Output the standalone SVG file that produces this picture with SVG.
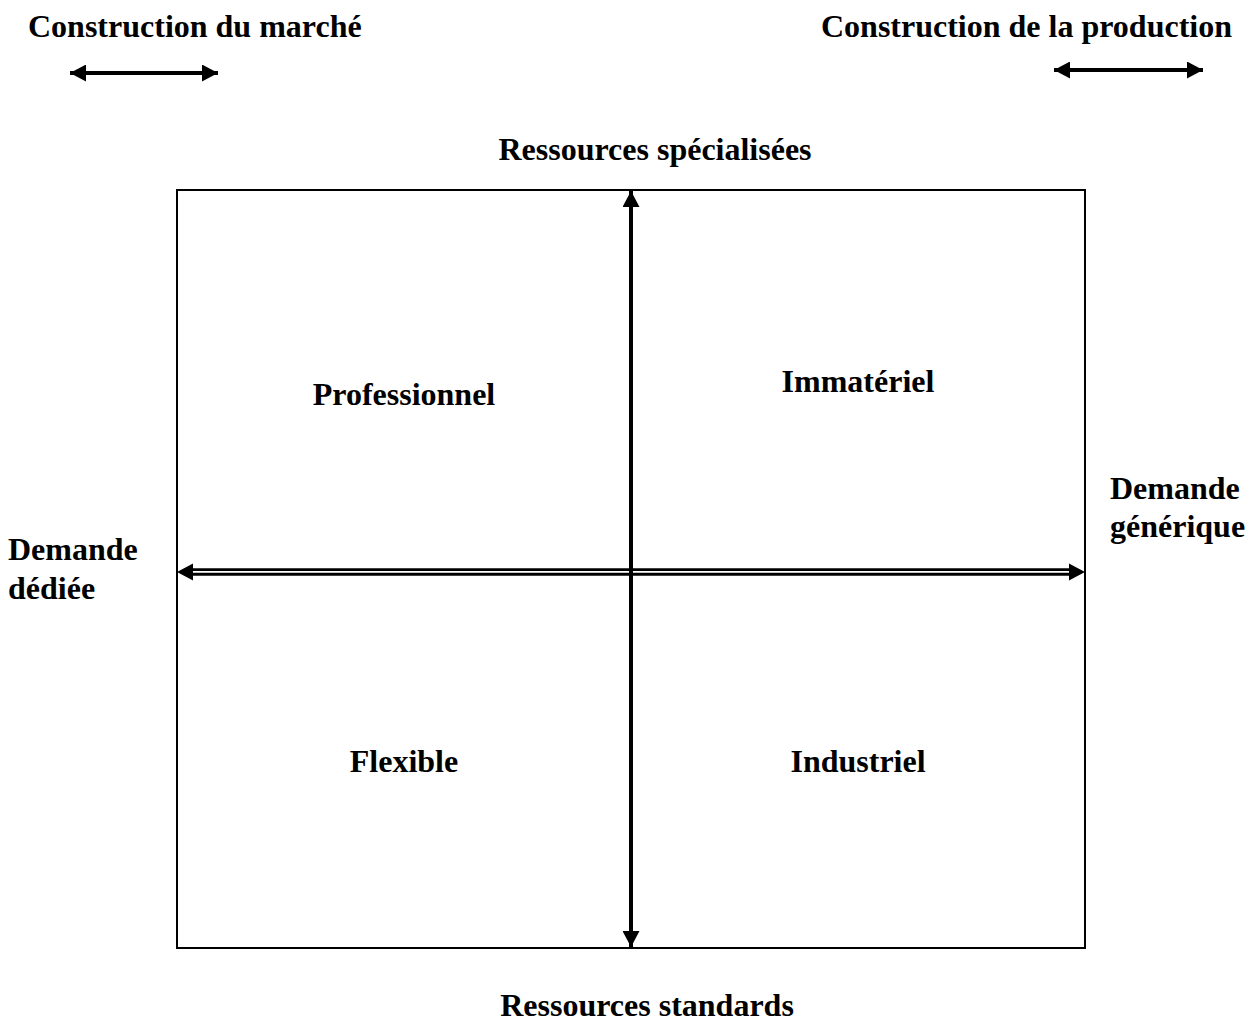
<svg xmlns="http://www.w3.org/2000/svg" width="1253" height="1023" viewBox="0 0 1253 1023">
<style>
text{font-family:"Liberation Serif","Times New Roman",serif;font-weight:bold;font-size:32px;fill:#000}
.c{text-anchor:middle}
.ln{stroke:#000;fill:none}
</style>
<defs>
<marker id="ah" viewBox="0 0 10 10" refX="10" refY="5" markerWidth="16" markerHeight="17" markerUnits="userSpaceOnUse" orient="auto-start-reverse" preserveAspectRatio="none">
<path d="M0,0 L10,5 L0,10 z" fill="#000"/>
</marker>
</defs>
<rect width="1253" height="1023" fill="#fff"/>
<g id="frame"><rect x="177" y="190" width="908" height="758" class="ln" stroke-width="2"/></g>
<g id="connectors">
<line x1="70" y1="73" x2="218" y2="73" class="ln" stroke-width="4" marker-start="url(#ah)" marker-end="url(#ah)"/>
<line x1="1054" y1="70" x2="1203" y2="70" class="ln" stroke-width="4" marker-start="url(#ah)" marker-end="url(#ah)"/>
<line x1="631" y1="191" x2="631" y2="947" class="ln" stroke-width="4" marker-start="url(#ah)" marker-end="url(#ah)"/>
<line x1="190" y1="569.6" x2="1072" y2="569.6" class="ln" stroke-width="2.8"/>
<line x1="190" y1="574.2" x2="1072" y2="574.2" class="ln" stroke-width="3"/>
<path d="M177,572 L193,563.5 L193,580.5 z" fill="#000"/>
<path d="M1085,572 L1069,563.5 L1069,580.5 z" fill="#000"/>
</g>
<g id="label-marche"><text x="28" y="37">Construction du marché</text></g>
<g id="label-production"><text x="1232" y="37" text-anchor="end">Construction de la production</text></g>
<g id="label-specialisees"><text x="655" y="160" class="c">Ressources spécialisées</text></g>
<g id="label-standards"><text x="647" y="1016" class="c">Ressources standards</text></g>
<g id="node-professionnel"><text x="404" y="405" class="c">Professionnel</text></g>
<g id="node-immateriel"><text x="858" y="392" class="c">Immatériel</text></g>
<g id="node-flexible"><text x="404" y="772" class="c">Flexible</text></g>
<g id="node-industriel"><text x="858" y="772" class="c">Industriel</text></g>
<g id="label-generique"><text x="1110" y="499">Demande</text><text x="1110" y="537">générique</text></g>
<g id="label-dediee"><text x="8" y="560">Demande</text><text x="8" y="599">dédiée</text></g>
</svg>
